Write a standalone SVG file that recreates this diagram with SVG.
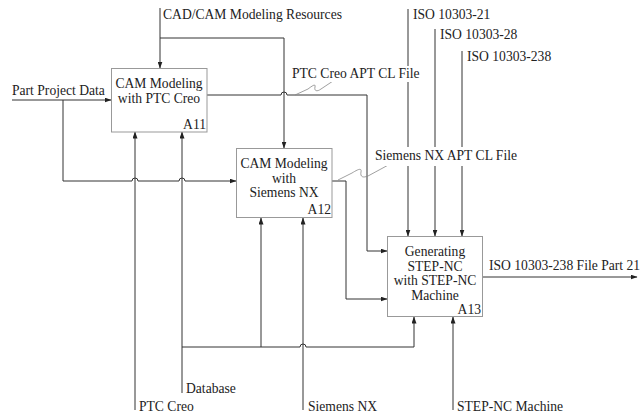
<svg xmlns="http://www.w3.org/2000/svg" width="640" height="416" viewBox="0 0 640 416">
<defs>
<marker id="ah" markerWidth="7" markerHeight="5" refX="6.5" refY="2.5" orient="auto" markerUnits="userSpaceOnUse">
<path d="M0,0 L7,2.5 L0,5 z" fill="#222"/>
</marker>
<style>
text{font-family:"Liberation Serif","Times New Roman",serif;font-size:13.6px;fill:#222}
.box{fill:#fff;stroke:#999;stroke-width:1}
.c{fill:none;stroke:#333;stroke-width:1}
.a{marker-end:url(#ah)}
.sq{fill:none;stroke:#888;stroke-width:0.8}
.mid{text-anchor:middle}
.end{text-anchor:end}
</style>
</defs>
<rect width="640" height="416" fill="#fff"/>
<g id="connectors">
<!-- CAD/CAM resources -->
<path class="c a" d="M160,8 V68"/>
<path class="c a" d="M160,38 H284 V148"/>
<!-- Part Project Data -->
<path class="c a" d="M12,100 H111"/>
<path class="c a" d="M63,100 V181 H132 A3,3 0 0 1 138,181 H179 A3,3 0 0 1 185,181 H236"/>
<!-- A11 output -->
<path class="c a" d="M207,95 H281 A3,3 0 0 1 287,95 H367 V251 H387"/>
<!-- A12 output -->
<path class="c a" d="M332,181 H346 V299 H387"/>
<!-- ISO controls -->
<path class="c a" d="M408,9 V236"/>
<path class="c a" d="M435,29 V236"/>
<path class="c a" d="M462,51 V236"/>
<!-- mechanisms -->
<path class="c a" d="M135,410 V132"/>
<path class="c a" d="M182,393 V132"/>
<path class="c a" d="M182,347 H300 A3,3 0 0 1 306,347 H414 V317"/>
<path class="c a" d="M261,347 V218"/>
<path class="c a" d="M303,410 V218"/>
<path class="c a" d="M453,410 V317"/>
<!-- output -->
<path class="c a" d="M482,277 H637"/>
<!-- label squiggles -->
<path class="sq" d="M295,95 L308,89 C312,86 316,83 315,87 C314,91 317,92 321,89 L333,81"/>
<path class="sq" d="M338,180 L352,173 C357,170 362,167 361,172 C360,177 363,178 368,176 L392,163"/>
</g>
<g id="labels">
<rect x="290" y="66" width="126" height="16" fill="#fff"/>
<text x="292" y="78">PTC Creo APT CL File</text>
<rect x="373" y="147" width="146" height="19" fill="#fff"/>
<text x="375" y="160">Siemens NX APT CL File</text>
<text x="163" y="19">CAD/CAM Modeling Resources</text>
<text x="413" y="19">ISO 10303-21</text>
<text x="440" y="39">ISO 10303-28</text>
<text x="467" y="61">ISO 10303-238</text>
<text x="12" y="95">Part Project Data</text>
<text x="489" y="270">ISO 10303-238 File Part 21</text>
<text x="186" y="393">Database</text>
<text x="139" y="411">PTC Creo</text>
<text x="308" y="411">Siemens NX</text>
<text x="457" y="411">STEP-NC Machine</text>
</g>
<g id="A11">
<rect class="box" x="111.5" y="68.5" width="95.5" height="63.5"/>
<text class="mid" x="159" y="88">CAM Modeling</text>
<text class="mid" x="159" y="102.5">with PTC Creo</text>
<text class="end" x="206" y="129">A11</text>
</g>
<g id="A12">
<rect class="box" x="236.5" y="148.5" width="95.5" height="69"/>
<text class="mid" x="284" y="168">CAM Modeling</text>
<text class="mid" x="284" y="182.5">with</text>
<text class="mid" x="284" y="197">Siemens NX</text>
<text class="end" x="331" y="214">A12</text>
</g>
<g id="A13">
<rect class="box" x="387.5" y="236.5" width="95" height="80"/>
<text class="mid" x="435" y="256">Generating</text>
<text class="mid" x="435" y="270.5">STEP-NC</text>
<text class="mid" x="435" y="285">with STEP-NC</text>
<text class="mid" x="435" y="299.5">Machine</text>
<text class="end" x="481" y="314">A13</text>
</g>
</svg>
